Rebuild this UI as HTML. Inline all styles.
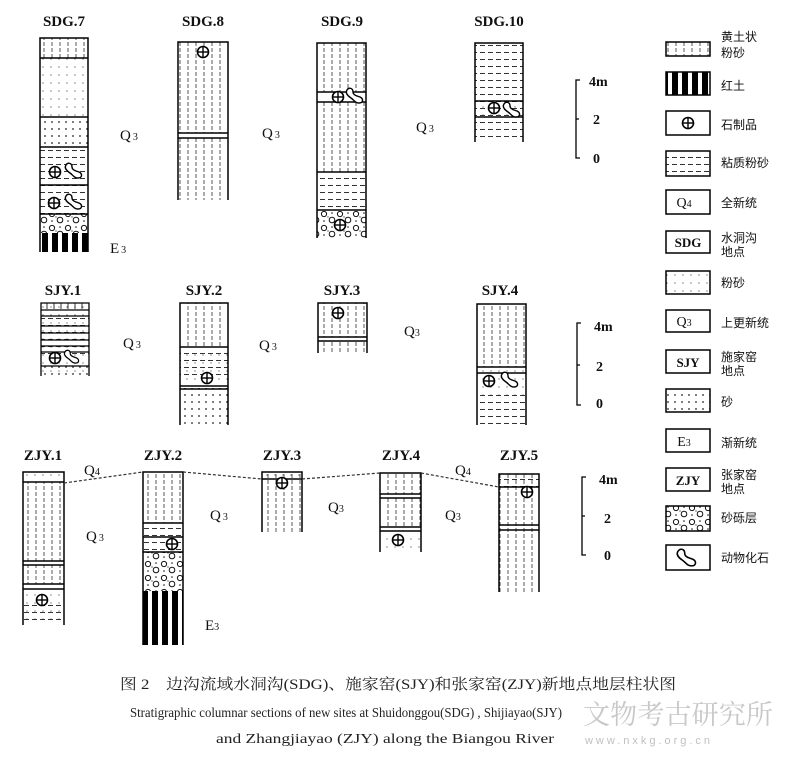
<!DOCTYPE html>
<html><head><meta charset="utf-8"><style>
html,body{margin:0;padding:0;background:#fff;}
svg{display:block;}
.t{font-family:"Liberation Serif","Noto Serif CJK SC",serif;font-weight:bold;font-size:15px;fill:#111;text-anchor:middle;}
.q{font-family:"Liberation Serif",serif;font-size:15px;fill:#111;}
.s{font-size:10px;}
.lg{font-family:"Liberation Sans","Noto Sans CJK SC",sans-serif;font-size:12px;fill:#111;}
.sc{font-family:"Liberation Serif",serif;font-weight:bold;font-size:14px;fill:#111;}
</style></head><body>
<svg width="800" height="762" viewBox="0 0 800 762" xmlns="http://www.w3.org/2000/svg">
<defs>
<pattern id="lo" width="8" height="6" patternUnits="userSpaceOnUse"><line x1="4" y1="0" x2="4" y2="4" stroke="#444" stroke-width="0.9"/></pattern>
<pattern id="cs" width="8" height="7" patternUnits="userSpaceOnUse"><line x1="0" y1="3.5" x2="5" y2="3.5" stroke="#333" stroke-width="1"/></pattern>
<pattern id="si" width="8" height="8" patternUnits="userSpaceOnUse"><circle cx="3" cy="3" r="0.6" fill="#444"/></pattern>
<pattern id="sa" width="7" height="7" patternUnits="userSpaceOnUse"><circle cx="3" cy="3" r="0.9" fill="#222"/></pattern>
<pattern id="gr" width="16" height="14" patternUnits="userSpaceOnUse"><circle cx="4" cy="4" r="2.6" fill="none" stroke="#111" stroke-width="1"/><circle cx="12" cy="10" r="2.8" fill="none" stroke="#111" stroke-width="1"/><circle cx="12" cy="3" r="0.8" fill="#111"/><circle cx="4" cy="11" r="0.8" fill="#111"/><circle cx="8" cy="7" r="0.6" fill="#111"/></pattern>
<pattern id="rd" width="10" height="10" patternUnits="userSpaceOnUse"><rect x="2" y="0" width="6" height="10" fill="#000"/></pattern>
<symbol id="a" viewBox="-7 -7 14 14" overflow="visible"><circle r="5.5" fill="#fff" stroke="#000" stroke-width="1.6"/><line x1="-5.5" y1="0" x2="5.5" y2="0" stroke="#000" stroke-width="1.4"/><line x1="0" y1="-5.5" x2="0" y2="5.5" stroke="#000" stroke-width="1.4"/></symbol>
<symbol id="f" viewBox="0 0 20 16" overflow="visible"><path d="M2,2 C4,-1 8,0 8,4 C8,7 12,8 15,9 C19,11 18,15 14,15 C10,15 9,12 6,10 C3,8 0,5 2,2Z" fill="#fff" stroke="#000" stroke-width="1.4"/></symbol>
</defs>
<g stroke="#000" fill="none">
<rect x="40" y="38" width="48" height="20" fill="url(#lo)" stroke="none"/>
<rect x="40" y="58" width="48" height="59" fill="url(#si)" stroke="none"/>
<rect x="40" y="117" width="48" height="30" fill="url(#sa)" stroke="none"/>
<rect x="40" y="147" width="48" height="67" fill="url(#cs)" stroke="none"/>
<rect x="40" y="214" width="48" height="19" fill="url(#gr)" stroke="none"/>
<rect x="40" y="233" width="48" height="19" fill="url(#rd)" stroke="none"/>
<path d="M40,252V38H88V252M40,58H88M40,117H88M40,147H88M40,185H88M40,214H88" stroke-width="1.5"/>
<rect x="178" y="42" width="50" height="158" fill="url(#lo)" stroke="none"/>
<rect x="178" y="133" width="50" height="5" fill="#fff" stroke="none"/>
<path d="M178,200V42H228V200M178,133H228M178,138H228" stroke-width="1.5"/>
<rect x="317" y="43" width="49" height="129" fill="url(#lo)" stroke="none"/>
<rect x="317" y="92" width="49" height="10" fill="#fff" stroke="none"/>
<rect x="317" y="172" width="49" height="38" fill="url(#cs)" stroke="none"/>
<rect x="317" y="210" width="49" height="28" fill="url(#gr)" stroke="none"/>
<path d="M317,238V43H366V238M317,92H366M317,102H366M317,172H366M317,210H366" stroke-width="1.5"/>
<rect x="475" y="43" width="48" height="99" fill="url(#cs)" stroke="none"/>
<rect x="475" y="101" width="48" height="16" fill="url(#si)" stroke="none"/>
<path d="M475,142V43H523V142M475,101H523M475,117H523" stroke-width="1.5"/>
<rect x="41" y="303" width="48" height="73" fill="url(#si)" stroke="none"/>
<rect x="41" y="318" width="48" height="42" fill="url(#cs)" stroke="none"/>
<path d="M41,376V303H89V376M41,310H89M41,316H89M41,326H89M41,333H89M41,340H89M41,346H89M41,352H89M41,366H89" stroke-width="1.3"/>
<path d="M47,303v6M54,303v6M61,303v6M68,303v6M75,303v6M82,303v6" stroke-width="0.8"/>
<rect x="41" y="366" width="48" height="10" fill="url(#sa)" stroke="none"/>
<rect x="180" y="303" width="48" height="44" fill="url(#lo)" stroke="none"/>
<rect x="180" y="347" width="48" height="39" fill="url(#si)" stroke="none"/>
<rect x="180" y="350" width="48" height="30" fill="url(#cs)" stroke="none"/>
<rect x="180" y="388" width="48" height="37" fill="url(#sa)" stroke="none"/>
<path d="M180,425V303H228V425M180,347H228M180,386H228M180,389H228" stroke-width="1.5"/>
<rect x="318" y="303" width="49" height="50" fill="url(#lo)" stroke="none"/>
<rect x="318" y="337" width="49" height="4" fill="#fff" stroke="none"/>
<path d="M318,353V303H367V353M318,337H367M318,341H367" stroke-width="1.5"/>
<rect x="477" y="304" width="49" height="63" fill="url(#lo)" stroke="none"/>
<rect x="477" y="367" width="49" height="28" fill="url(#si)" stroke="none"/>
<rect x="477" y="395" width="49" height="30" fill="url(#cs)" stroke="none"/>
<path d="M477,425V304H526V425M477,367H526M477,373H526" stroke-width="1.5"/>
<rect x="23" y="472" width="41" height="10" fill="url(#si)" stroke="none"/>
<rect x="23" y="482" width="41" height="102" fill="url(#lo)" stroke="none"/>
<rect x="23" y="561" width="41" height="4" fill="#fff" stroke="none"/>
<rect x="23" y="589" width="41" height="36" fill="url(#si)" stroke="none"/>
<rect x="23" y="605" width="41" height="20" fill="url(#cs)" stroke="none"/>
<path d="M23,625V472H64V625M23,482H64M23,561H64M23,565H64M23,584H64M23,589H64" stroke-width="1.5"/>
<rect x="143" y="472" width="40" height="51" fill="url(#lo)" stroke="none"/>
<rect x="143" y="523" width="40" height="29" fill="url(#cs)" stroke="none"/>
<rect x="143" y="552" width="40" height="39" fill="url(#gr)" stroke="none"/>
<rect x="143" y="591" width="40" height="54" fill="url(#rd)" stroke="none"/>
<path d="M143,645V472H183V645M143,523H183M143,537H183M143,552H183" stroke-width="1.5"/>
<rect x="262" y="472" width="40" height="60" fill="url(#lo)" stroke="none"/>
<rect x="262" y="472" width="40" height="7" fill="url(#si)" stroke="none"/>
<path d="M262,532V472H302V532M262,479H302" stroke-width="1.5"/>
<rect x="380" y="473" width="41" height="54" fill="url(#lo)" stroke="none"/>
<rect x="380" y="494" width="41" height="4" fill="#fff" stroke="none"/>
<rect x="380" y="527" width="41" height="25" fill="url(#si)" stroke="none"/>
<path d="M380,552V473H421V552M380,494H421M380,498H421M380,527H421M380,531H421" stroke-width="1.5"/>
<rect x="499" y="474" width="40" height="118" fill="url(#lo)" stroke="none"/>
<rect x="499" y="474" width="40" height="13" fill="url(#cs)" stroke="none"/>
<rect x="499" y="525" width="40" height="5" fill="url(#si)" stroke="none"/>
<path d="M499,592V474H539V592M499,487H539M499,525H539M499,530H539" stroke-width="1.5"/>
<path d="M64,483L143,472M183,472L262,479M302,479L380,473M421,473L499,487" stroke="#333" stroke-width="1.2" stroke-dasharray="3,2"/>
<path d="M580,80H576V158H580M576,119H579" stroke-width="1.3"/>
<path d="M581,323H577V405H581M577,365H580" stroke-width="1.3"/>
<path d="M586,477H582V555H586M582,516H585" stroke-width="1.3"/>
<rect x="666" y="42" width="44" height="14" fill="url(#lo)" stroke-width="1.5"/>
<rect x="666" y="72" width="44" height="23" fill="url(#rd)" stroke-width="1.5"/>
<rect x="666" y="111" width="44" height="24" fill="#fff" stroke-width="1.5"/>
<rect x="666" y="151" width="44" height="25" fill="url(#cs)" stroke-width="1.5"/>
<rect x="666" y="190" width="44" height="24" stroke-width="1.5"/>
<rect x="666" y="231" width="44" height="22" stroke-width="1.5"/>
<rect x="666" y="271" width="44" height="23" fill="url(#si)" stroke-width="1.5"/>
<rect x="666" y="310" width="44" height="22" stroke-width="1.5"/>
<rect x="666" y="350" width="44" height="23" stroke-width="1.5"/>
<rect x="666" y="389" width="44" height="23" fill="url(#sa)" stroke-width="1.5"/>
<rect x="666" y="429" width="44" height="23" stroke-width="1.5"/>
<rect x="666" y="468" width="44" height="23" stroke-width="1.5"/>
<rect x="666" y="506" width="44" height="25" fill="url(#gr)" stroke-width="1.5"/>
<rect x="666" y="545" width="44" height="25" stroke-width="1.5"/>
</g>
<g>
<use href="#a" x="48" y="165" width="14" height="14"/><use href="#f" x="64" y="163" width="20" height="16"/>
<use href="#a" x="47" y="196" width="14" height="14"/><use href="#f" x="64" y="194" width="20" height="16"/>
<use href="#a" x="196" y="45" width="14" height="14"/>
<use href="#a" x="331" y="90" width="14" height="14"/><use href="#f" x="345" y="88" width="20" height="16"/>
<use href="#a" x="333" y="218" width="14" height="14"/>
<use href="#a" x="487" y="101" width="14" height="14"/><use href="#f" x="502" y="102" width="20" height="16"/>
<use href="#a" x="48" y="351" width="14" height="14"/><use href="#f" x="63" y="350" width="18" height="14"/>
<use href="#a" x="200" y="371" width="14" height="14"/>
<use href="#a" x="331" y="306" width="14" height="14"/>
<use href="#a" x="482" y="374" width="14" height="14"/><use href="#f" x="500" y="372" width="20" height="16"/>
<use href="#a" x="35" y="593" width="14" height="14"/>
<use href="#a" x="165" y="537" width="14" height="14"/>
<use href="#a" x="275" y="476" width="14" height="14"/>
<use href="#a" x="391" y="533" width="14" height="14"/>
<use href="#a" x="520" y="485" width="14" height="14"/>
<use href="#a" x="681" y="116" width="14" height="14"/>
<use href="#f" x="675" y="549" width="24" height="18"/>
</g>
<text class="t" x="64" y="26">SDG.7</text>
<text class="t" x="203" y="26">SDG.8</text>
<text class="t" x="342" y="26">SDG.9</text>
<text class="t" x="499" y="26">SDG.10</text>
<text class="t" x="63" y="295">SJY.1</text>
<text class="t" x="204" y="295">SJY.2</text>
<text class="t" x="342" y="295">SJY.3</text>
<text class="t" x="500" y="295">SJY.4</text>
<text class="t" x="43" y="460">ZJY.1</text>
<text class="t" x="163" y="460">ZJY.2</text>
<text class="t" x="282" y="460">ZJY.3</text>
<text class="t" x="401" y="460">ZJY.4</text>
<text class="t" x="519" y="460">ZJY.5</text>
<text class="q" x="120" y="140">Q<tspan class="s" dx="2">3</tspan></text>
<text class="q" x="262" y="138">Q<tspan class="s" dx="2">3</tspan></text>
<text class="q" x="416" y="132">Q<tspan class="s" dx="2">3</tspan></text>
<text class="q" x="110" y="253">E<tspan class="s" dx="2">3</tspan></text>
<text class="q" x="123" y="348">Q<tspan class="s" dx="2">3</tspan></text>
<text class="q" x="259" y="350">Q<tspan class="s" dx="2">3</tspan></text>
<text class="q" x="404" y="336">Q<tspan class="s">3</tspan></text>
<text class="q" x="84" y="475">Q<tspan class="s">4</tspan></text>
<text class="q" x="455" y="475">Q<tspan class="s">4</tspan></text>
<text class="q" x="86" y="541">Q<tspan class="s" dx="2">3</tspan></text>
<text class="q" x="210" y="520">Q<tspan class="s" dx="2">3</tspan></text>
<text class="q" x="328" y="512">Q<tspan class="s">3</tspan></text>
<text class="q" x="445" y="520">Q<tspan class="s">3</tspan></text>
<text class="q" x="205" y="630">E<tspan class="s">3</tspan></text>
<text class="sc" x="589" y="86">4m</text><text class="sc" x="593" y="124">2</text><text class="sc" x="593" y="163">0</text>
<text class="sc" x="594" y="331">4m</text><text class="sc" x="596" y="371">2</text><text class="sc" x="596" y="408">0</text>
<text class="sc" x="599" y="484">4m</text><text class="sc" x="604" y="523">2</text><text class="sc" x="604" y="560">0</text>
<g font-family="Liberation Serif,serif" font-size="14" fill="#111" text-anchor="middle">
<text x="684" y="207">Q<tspan font-size="10">4</tspan></text>
<text x="688" y="247" font-weight="bold" font-size="13">SDG</text>
<text x="684" y="326">Q<tspan font-size="10">3</tspan></text>
<text x="688" y="367" font-weight="bold" font-size="13">SJY</text>
<text x="684" y="446">E<tspan font-size="10">3</tspan></text>
<text x="688" y="485" font-weight="bold" font-size="13">ZJY</text>
</g>
<g class="lg">
<text class="lg" x="721" y="41">黄土状</text><text class="lg" x="721" y="57">粉砂</text>
<text class="lg" x="721" y="90">红土</text>
<text class="lg" x="721" y="129">石制品</text>
<text class="lg" x="721" y="167">粘质粉砂</text>
<text class="lg" x="721" y="207">全新统</text>
<text class="lg" x="721" y="242">水洞沟</text><text class="lg" x="721" y="256">地点</text>
<text class="lg" x="721" y="287">粉砂</text>
<text class="lg" x="721" y="327">上更新统</text>
<text class="lg" x="721" y="361">施家窑</text><text class="lg" x="721" y="375">地点</text>
<text class="lg" x="721" y="406">砂</text>
<text class="lg" x="721" y="447">渐新统</text>
<text class="lg" x="721" y="479">张家窑</text><text class="lg" x="721" y="493">地点</text>
<text class="lg" x="721" y="522">砂砾层</text>
<text class="lg" x="721" y="562">动物化石</text>
</g>
<text x="583" y="724" font-family="Noto Serif CJK SC,serif" font-size="27" fill="#c8c8c8" textLength="190">文物考古研究所</text>
<text x="585" y="744" font-family="Liberation Sans,sans-serif" font-size="11" fill="#c0c0c0" textLength="125">www.nxkg.org.cn</text>
<text x="120" y="689" font-family="Liberation Serif,Noto Serif CJK SC,serif" font-size="15" fill="#222" textLength="556" lengthAdjust="spacingAndGlyphs">图 2　边沟流域水洞沟(SDG)、施家窑(SJY)和张家窑(ZJY)新地点地层柱状图</text>
<text x="130" y="717" font-family="Liberation Serif,serif" font-size="14" fill="#222" textLength="432" lengthAdjust="spacingAndGlyphs">Stratigraphic columnar sections of new sites at Shuidonggou(SDG) , Shijiayao(SJY)</text>
<text x="216" y="743" font-family="Liberation Serif,serif" font-size="14" fill="#222" textLength="338" lengthAdjust="spacingAndGlyphs">and Zhangjiayao (ZJY) along the Biangou River</text>
</svg>
</body></html>
